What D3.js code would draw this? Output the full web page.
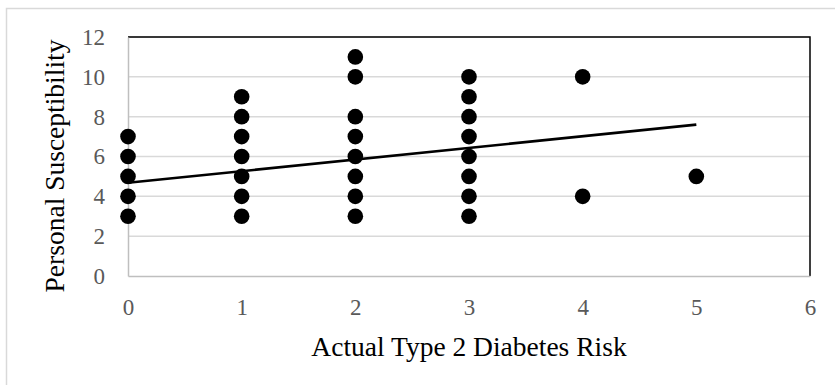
<!DOCTYPE html>
<html>
<head>
<meta charset="utf-8">
<script src="https://cdn.jsdelivr.net/npm/d3@7"></script>
<style>
  body { margin: 0; background: #fff; }
  svg { display: block; }
  .tick text { font-family: "Liberation Serif", serif; fill: #595959; }
</style>
</head>
<body>
<div id="chart"></div>
<script>
var svgWidth = 835;
var svgHeight = 385;

// plot area
var margin = { top: 37, right: 25, bottom: 109, left: 128 };
var width = svgWidth - margin.left - margin.right;
var height = svgHeight - margin.top - margin.bottom;

// data (risk score, susceptibility score)
var riskValues = [0, 0, 0, 0, 0,
  1, 1, 1, 1, 1, 1, 1,
  2, 2, 2, 2, 2, 2, 2, 2,
  3, 3, 3, 3, 3, 3, 3, 3,
  4, 4,
  5];
var susceptValues = [3, 4, 5, 6, 7,
  3, 4, 5, 6, 7, 8, 9,
  3, 4, 5, 6, 7, 8, 10, 11,
  3, 4, 5, 6, 7, 8, 9, 10,
  4, 10,
  5];
var xTicks = [0, 1, 2, 3, 4, 5, 6];
var yTicks = [0, 2, 4, 6, 8, 10, 12];
// linear trendline end points
var trendX = [0, 5];
var trendY = [4.68, 7.6];

var data = riskValues.map(function(d, i) {
  return { x: d, y: susceptValues[i] };
});

var svg = d3.select("#chart")
  .append("svg")
  .attr("width", svgWidth)
  .attr("height", svgHeight);

// outer chart border
svg.append("rect")
  .attr("x", 6.5)
  .attr("y", 8.5)
  .attr("width", 840)
  .attr("height", 400)
  .attr("fill", "none")
  .attr("stroke", "#d9d9d9")
  .attr("stroke-width", 1.5);

var chartGroup = svg.append("g")
  .attr("transform", `translate(${margin.left}, ${margin.top})`);

var xScale = d3.scaleLinear().domain([0, 6]).range([0, width]);
var yScale = d3.scaleLinear().domain([0, 12]).range([height, 0]);

// horizontal gridlines
chartGroup.append("g")
  .selectAll("line")
  .data(yTicks.slice(1))
  .enter()
  .append("line")
  .attr("x1", 0)
  .attr("x2", width)
  .attr("y1", d => yScale(d))
  .attr("y2", d => yScale(d))
  .attr("stroke", "#d9d9d9")
  .attr("stroke-width", 1.5);

// frame on top and right
chartGroup.append("path")
  .attr("d", `M0,${yScale(12)}H${width}V${height}`)
  .attr("fill", "none")
  .attr("stroke", "#000")
  .attr("stroke-width", 1.5);

// axes
var bottomAxis = d3.axisBottom(xScale).tickValues(xTicks)
  .tickFormat(d3.format("d")).tickSize(0).tickPadding(23);
var leftAxis = d3.axisLeft(yScale).tickValues(yTicks)
  .tickFormat(d3.format("d")).tickSize(0).tickPadding(23);

var xAxis = chartGroup.append("g")
  .attr("transform", `translate(0, ${height})`)
  .call(bottomAxis);
var yAxis = chartGroup.append("g")
  .call(leftAxis);

xAxis.selectAll("text").style("font-size", "23px");
yAxis.selectAll("text").style("font-size", "23px");
xAxis.select(".domain").attr("stroke", "#bfbfbf").attr("stroke-width", 1.5);
yAxis.select(".domain").attr("stroke", "#bfbfbf").attr("stroke-width", 1.5);

// points
chartGroup.append("g")
  .selectAll("circle")
  .data(data)
  .enter()
  .append("circle")
  .attr("cx", d => xScale(d.x))
  .attr("cy", d => yScale(d.y))
  .attr("r", 7.8)
  .attr("fill", "#000");

// trendline
chartGroup.append("line")
  .attr("x1", xScale(trendX[0]))
  .attr("y1", yScale(trendY[0]))
  .attr("x2", xScale(trendX[1]))
  .attr("y2", yScale(trendY[1]))
  .attr("stroke", "#000")
  .attr("stroke-width", 2.6);

// axis titles
chartGroup.append("text")
  .attr("x", width / 2)
  .attr("y", height + 80)
  .attr("text-anchor", "middle")
  .style("font-family", "Liberation Serif, serif")
  .style("font-size", "27.5px")
  .attr("fill", "#000")
  .text("Actual Type 2 Diabetes Risk");

chartGroup.append("text")
  .attr("transform", "rotate(-90)")
  .attr("x", -129)
  .attr("y", -64)
  .attr("text-anchor", "middle")
  .style("font-family", "Liberation Serif, serif")
  .style("font-size", "27.5px")
  .attr("fill", "#000")
  .text("Personal Susceptibility");
</script>
</body>
</html>
